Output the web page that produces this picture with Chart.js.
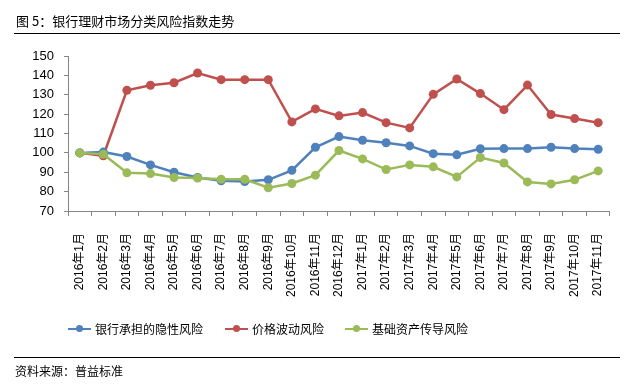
<!DOCTYPE html>
<html><head><meta charset="utf-8">
<script src="https://cdn.jsdelivr.net/npm/chart.js@4/dist/chart.umd.min.js"></script>
<style>
html,body{margin:0;padding:0;background:#fff;}
#wrap{position:relative;width:630px;height:387px;overflow:hidden;font-family:"Liberation Sans","Noto Sans CJK SC",sans-serif;color:#000;}
#c{position:absolute;left:0;top:0;}
.title{position:absolute;left:16px;top:11px;font-size:13px;font-family:"Noto Sans CJK SC",sans-serif;}
.hr{position:absolute;left:14px;width:606px;height:1px;background:#000;}
.src{position:absolute;left:15px;top:362px;font-size:12px;font-family:"Noto Sans CJK SC",sans-serif;}
.leg{position:absolute;top:320px;font-size:12px;font-family:"Noto Sans CJK SC",sans-serif;display:flex;align-items:center;}
.leg .ln{position:relative;width:23px;height:2px;margin-right:4px;}
.leg .dt{position:absolute;left:8px;top:-2.5px;width:7px;height:7px;border-radius:50%;}
</style></head>
<body><div id="wrap">
<canvas id="c" width="630" height="387"></canvas>
<div class="title">图 5：银行理财市场分类风险指数走势</div>
<div class="hr" style="top:33px"></div>
<div id="legend"></div>
<div class="hr" style="top:357px"></div>
<div class="src">资料来源：普益标准</div>
</div>
<script>
const categories = ["2016年1月","2016年2月","2016年3月","2016年4月","2016年5月","2016年6月","2016年7月","2016年8月","2016年9月","2016年10月","2016年11月","2016年12月","2017年1月","2017年2月","2017年3月","2017年4月","2017年5月","2017年6月","2017年7月","2017年8月","2017年9月","2017年10月","2017年11月"];
const seriesNames = ["银行承担的隐性风险","价格波动风险","基础资产传导风险"];
const bankRisk = [100,100.4,98.1,93.8,90.0,87.3,85.6,85.2,86.1,91.0,102.9,108.4,106.5,105.2,103.6,99.6,99.0,102.1,102.2,102.2,102.9,102.2,101.9];
const priceRisk = [100,98.5,132.3,134.9,136.2,141.2,137.8,137.8,137.8,116.0,122.7,119.1,120.8,115.6,112.9,130.2,138.1,130.6,122.3,135.0,119.8,117.7,115.6];
const assetRisk = [100,99.3,89.7,89.3,87.3,87.0,86.4,86.4,82.0,84.2,88.5,101.2,96.9,91.4,93.8,92.8,87.6,97.6,94.8,85.0,84.0,86.1,90.7];
const yTicks = {min:70,max:150,step:10};
const colors = ["#4F81BD","#C0504D","#9BBB59"];

const values = [bankRisk, priceRisk, assetRisk];
const drawOrder = [1,2,0];
const datasets = values.map((v,i)=>({
  label: seriesNames[i], data: v, borderColor: colors[i], backgroundColor: colors[i],
  borderWidth: 2.5, pointRadius: 4.5, pointHoverRadius: 4.5, pointBorderWidth: 0,
  tension: 0, order: drawOrder[i]
}));

new Chart(document.getElementById('c'), {
  type: 'line',
  data: {labels: categories, datasets},
  options: {
    responsive: false, animation: false, devicePixelRatio: 1,
    layout: {padding: {top: 56, left: 0, right: 19, bottom: 76}},
    plugins: {legend: {display: false}, tooltip: {enabled: false}},
    scales: {
      x: {
        offset: true,
        afterFit: s => { s.height = 100; },
        grid: {drawOnChartArea: false, drawTicks: true, tickLength: 5, color: '#868686', offset: true},
        border: {color: '#868686', width: 1},
        ticks: {autoSkip: false, maxRotation: 90, minRotation: 90, padding: 17, color: '#000',
          font: {size: 12, family: '"Liberation Sans","Noto Sans CJK SC",sans-serif'}}
      },
      y: {
        min: yTicks.min, max: yTicks.max,
        afterFit: s => { s.width = 68; },
        grid: {drawOnChartArea: false, drawTicks: true, tickLength: 4, color: '#868686'},
        border: {color: '#868686', width: 1},
        ticks: {stepSize: yTicks.step, padding: 10, color: '#000',
          font: {size: 13, family: '"Liberation Sans",sans-serif'}}
      }
    }
  }
});

const legend = document.getElementById('legend');
const legX = [68, 225, 345];
seriesNames.forEach((n,i)=>{
  const d = document.createElement('div');
  d.className = 'leg'; d.style.left = legX[i]+'px';
  d.innerHTML = '<span class="ln" style="background:'+colors[i]+'"><span class="dt" style="background:'+colors[i]+'"></span></span><span>'+n+'</span>';
  legend.appendChild(d);
});
</script>
</body></html>
